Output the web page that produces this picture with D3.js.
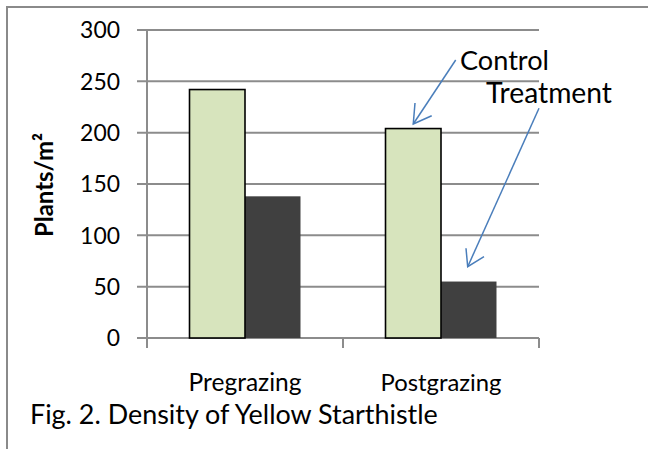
<!DOCTYPE html>
<html><head><meta charset="utf-8">
<script src="https://cdn.jsdelivr.net/npm/d3@7"></script>
<style>html,body{margin:0;padding:0;background:#fff;}svg{display:block;}</style>
</head><body>
<script>
const categories = ["Pregrazing", "Postgrazing"];
const series = ["Control", "Treatment"];
const controlValues = [242, 204];
const treatmentValues = [138, 55];
const yTicks = [0, 50, 100, 150, 200, 250, 300];
const yLabel = "Plants/m²";
const caption = "Fig. 2. Density of Yellow Starthistle";

const W = 648, H = 449;
const FONT = "Lato, 'Open Sans', sans-serif";
const svg = d3.select("body").append("svg").attr("width", W).attr("height", H);

// frame (top and left edges visible)
svg.append("path").attr("d", "M7,449V7H648").attr("fill", "none")
  .attr("stroke", "#8a8a8a").attr("stroke-width", 2);

const y = d3.scaleLinear().domain([0, 300]).range([338, 30]);
const x = d3.scaleBand().domain(categories).range([147, 539]);
const xs = d3.scaleBand().domain(series).range([0, x.bandwidth()]).paddingInner(0).paddingOuter(0.766);

function fit(t, w) {
  const len = t.node().getComputedTextLength();
  const fs = parseFloat(t.attr("font-size"));
  t.attr("font-size", (fs * w / len).toFixed(2));
  return t;
}

// gridlines
const g = svg.append("g");
g.selectAll("line.grid").data(yTicks).join("line")
  .attr("x1", 137).attr("x2", 539)
  .attr("y1", d => y(d)).attr("y2", d => y(d))
  .attr("stroke", "#8c8c8c").attr("stroke-width", 2);
// y axis line
g.append("line").attr("x1", 147).attr("x2", 147).attr("y1", y(300)).attr("y2", 348)
  .attr("stroke", "#8c8c8c").attr("stroke-width", 2);
// x tick marks at category boundaries
const bounds = [147, ...categories.map(c => x(c) + x.bandwidth())];
g.selectAll("line.xt").data(bounds).join("line")
  .attr("x1", d => d).attr("x2", d => d).attr("y1", y(0)).attr("y2", 348)
  .attr("stroke", "#8c8c8c").attr("stroke-width", 2);

// y tick labels
g.selectAll("text.yt").data(yTicks).join("text")
  .attr("x", 120).attr("y", d => y(d)).attr("dy", "0.36em")
  .attr("text-anchor", "end").attr("font-family", FONT).attr("font-size", 22)
  .attr("fill", "#000").text(d => d)
  .each(function (d) { fit(d3.select(this), String(d).length * 13.3); });

// bars
const data = categories.map((c, i) => ({ c, vals: [controlValues[i], treatmentValues[i]] }));
const groups = svg.selectAll("g.cat").data(data).join("g").attr("transform", d => `translate(${x(d.c)},0)`);
groups.selectAll("rect.t").data(d => [d.vals[1]]).join("rect")
  .attr("x", xs("Treatment")).attr("width", xs.bandwidth())
  .attr("y", d => y(d)).attr("height", d => y(0) - y(d))
  .attr("fill", "#404040");
groups.selectAll("rect.c").data(d => [d.vals[0]]).join("rect")
  .attr("x", xs("Control")).attr("width", xs.bandwidth())
  .attr("y", d => y(d)).attr("height", d => y(0) - y(d))
  .attr("fill", "#d7e4bd").attr("stroke", "#000").attr("stroke-width", 1.6);

// category labels
svg.selectAll("text.cat").data(categories).join("text")
  .attr("x", d => x(d) + x.bandwidth() / 2).attr("y", 391)
  .attr("text-anchor", "middle").attr("font-family", FONT).attr("font-size", 22)
  .text(d => d)
  .each(function (d, i) { fit(d3.select(this), i === 0 ? 113 : 121); });

// y label
const yl = svg.append("text").attr("transform", "translate(53,185) rotate(-90)")
  .attr("text-anchor", "middle").attr("font-family", FONT).attr("font-weight", "bold")
  .attr("font-size", 19).text(yLabel);
fit(yl, 104);

// caption
const cap = svg.append("text").attr("x", 30).attr("y", 424)
  .attr("font-family", FONT).attr("font-size", 24).text(caption);
fit(cap, 408);

// annotations
const ctl = svg.append("text").attr("x", 460).attr("y", 70).attr("font-family", FONT)
  .attr("font-size", 26).text("Control");
fit(ctl, 89);
const trt = svg.append("text").attr("x", 486).attr("y", 103).attr("font-family", FONT)
  .attr("font-size", 26).text("Treatment");
fit(trt, 126);

const blue = "#4a7ebb";
const arrows = [
  { from: [455.7, 60], to: [x("Postgrazing") + xs("Control") + xs.bandwidth() / 2, 124], a: [415, 103], b: [431.7, 115.7] },
  { from: [539, 108.3], to: [467.7, 266.7], a: [466, 248.3], b: [484, 256.7] }
];
arrows.forEach(ar => {
  const dx = ar.to[0], dy = ar.to[1];
  svg.append("line").attr("x1", ar.from[0]).attr("y1", ar.from[1]).attr("x2", dx).attr("y2", dy)
    .attr("stroke", blue).attr("stroke-width", 1.5);
  svg.append("path").attr("d", `M${ar.a[0]},${ar.a[1]}L${dx},${dy}L${ar.b[0]},${ar.b[1]}`)
    .attr("fill", "none").attr("stroke", blue).attr("stroke-width", 1.5);
});
</script>
</body></html>
